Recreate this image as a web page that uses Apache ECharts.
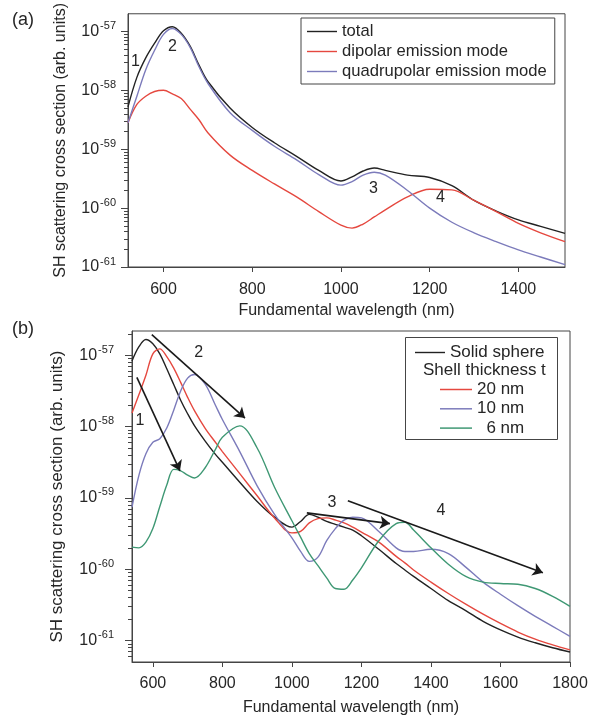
<!DOCTYPE html>
<html>
<head>
<meta charset="utf-8">
<script src="https://cdn.jsdelivr.net/npm/echarts@6/dist/echarts.min.js"></script>
<style>
  html, body { margin: 0; padding: 0; background: #fff; }
  #main { width: 599px; height: 720px; }
</style>
</head>
<body>
<div id="main"></div>
<script>
// values are log10 of the SH scattering cross section (arb. units)

// panel (a) - wavelength in nm
var waveA = [520, 540, 560, 580, 600, 620, 640, 660, 680, 700, 750, 800, 850, 900, 950, 1000,
  1025, 1050, 1075, 1100, 1150, 1200, 1250, 1300, 1350, 1400, 1450, 1505]
var totalA = [-58.28, -57.78, -57.45, -57.2, -56.99, -56.92, -57.03, -57.25, -57.57, -57.85, -58.3, -58.63,
  -58.89, -59.12, -59.36, -59.54, -59.47, -59.37, -59.32, -59.36, -59.44, -59.48, -59.62, -59.87, -60.05,
  -60.2, -60.31, -60.43]
var dipolarA = [-58.55, -58.24, -58.1, -58.02, -58.0, -58.06, -58.14, -58.32, -58.5, -58.72, -59.1, -59.36,
  -59.59, -59.81, -60.06, -60.29, -60.34, -60.27, -60.15, -60.03, -59.81, -59.68, -59.69, -59.87, -60.06,
  -60.26, -60.42, -60.57]
var quadrupolarA = [-58.55, -58.1, -57.65, -57.32, -57.05, -56.95, -57.05, -57.27, -57.6, -57.88, -58.38, -58.68,
  -58.95, -59.18, -59.43, -59.61, -59.55, -59.44, -59.39, -59.44, -59.7, -60.0, -60.24, -60.42, -60.57,
  -60.71, -60.83, -60.96]

// panel (b)
var waveB = [540, 560, 580, 600, 620, 640, 660, 680, 700, 720, 750, 780, 800, 850, 900, 950, 1000,
  1025, 1050, 1075, 1100, 1125, 1150, 1175, 1200, 1250, 1300, 1325, 1350, 1400, 1450, 1500, 1550,
  1600, 1650, 1700, 1750, 1800]
var solidB = [-57.08, -56.88, -56.78, -56.84, -56.98, -57.19, -57.41, -57.63, -57.82, -57.99, -58.2, -58.39,
  -58.5, -58.78, -59.05, -59.27, -59.41, -59.33, -59.23, -59.27, -59.33, -59.37, -59.41, -59.45, -59.53,
  -59.72, -59.92, -60.01, -60.1, -60.27, -60.44, -60.58, -60.73, -60.85, -60.95, -61.03, -61.1, -61.16]
var shell20B = [-57.81, -57.55, -57.28, -56.98, -56.91, -57.02, -57.18, -57.38, -57.59, -57.78, -58.02, -58.22,
  -58.35, -58.66, -58.97, -59.28, -59.49, -59.47, -59.35, -59.29, -59.28, -59.31, -59.35, -59.41, -59.48,
  -59.62, -59.82, -59.91, -60.01, -60.18, -60.34, -60.49, -60.63, -60.76, -60.88, -60.98, -61.06, -61.13]
var shell10B = [-59.13, -58.68, -58.38, -58.22, -58.17, -58.02, -57.77, -57.5, -57.32, -57.27, -57.4, -57.7,
  -57.9, -58.35, -58.83, -59.23, -59.56, -59.75, -59.89, -59.83, -59.6, -59.43, -59.31, -59.27, -59.28,
  -59.47, -59.7, -59.75, -59.75, -59.72, -59.78, -59.97, -60.18, -60.35, -60.51, -60.66, -60.8, -60.94]
var shell6B = [-59.69, -59.7, -59.62, -59.43, -59.12, -58.82, -58.6, -58.62, -58.68, -58.72, -58.58, -58.32,
  -58.15, -57.99, -58.3, -58.85, -59.32, -59.55, -59.78, -59.95, -60.12, -60.27, -60.28, -60.15, -59.98,
  -59.6, -59.36, -59.34, -59.45, -59.7, -59.93, -60.1, -60.18, -60.2, -60.21, -60.27, -60.38, -60.52]

// tick labels
var decades = [-61, -60, -59, -58, -57]
var ticksA = [600, 800, 1000, 1200, 1400]
var ticksB = [600, 800, 1000, 1200, 1400, 1600, 1800]

var FONT = '"Liberation Sans", Arial, sans-serif'
var AXIS_COLOR = '#454545'
var TEXT_COLOR = '#262626'
var BLACK = '#222222'
var RED = '#e5483f'
var PURPLE = '#7c7bbb'
var GREEN = '#3f9874'
// thin bar used as the legend sample line
var LINE_ICON = 'path://M0,0 L30,0 L30,1.4 L0,1.4 Z'

var chart = echarts.init(document.getElementById('main'))

var pairs = function (xs, ys) {
  return xs.map(function (x, i) { return [x, ys[i]] })
}

// log minor ticks (2..9 in every decade)
var minorTicks = function (from, to) {
  var out = []
  for (var d = from; d < to; d++) {
    for (var k = 2; k <= 9; k++) out.push(d + Math.log10(k))
  }
  return out
}

var expLabel = function (v) {
  return '{b|10}{s|' + v + '}'
}

var xAxisFor = function (gridIndex, min, max, ticks, labelMargin, nameGap) {
  return {
    type: 'value', gridIndex: gridIndex, min: min, max: max,
    name: 'Fundamental wavelength (nm)', nameLocation: 'middle', nameGap: nameGap,
    nameTextStyle: { fontFamily: FONT, fontSize: 16, color: TEXT_COLOR },
    axisLine: { show: true, lineStyle: { color: AXIS_COLOR } },
    axisTick: { show: true, length: 5, customValues: ticks, lineStyle: { color: AXIS_COLOR } },
    axisLabel: {
      customValues: ticks, margin: labelMargin, fontFamily: FONT, fontSize: 16, color: TEXT_COLOR,
      formatter: function (v) { return String(v) }
    },
    splitLine: { show: false }
  }
}

var yMajor = function (gridIndex, min, max, nameSize, nameGap, labelMargin) {
  return {
    type: 'value', gridIndex: gridIndex, min: min, max: max, position: 'left',
    name: 'SH scattering cross section (arb. units)', nameLocation: 'middle', nameGap: nameGap,
    nameTextStyle: { fontFamily: FONT, fontSize: nameSize, color: TEXT_COLOR },
    axisLine: { show: true, lineStyle: { color: AXIS_COLOR } },
    axisTick: { show: true, length: 7, customValues: decades, lineStyle: { color: AXIS_COLOR } },
    axisLabel: {
      customValues: decades, margin: labelMargin, formatter: expLabel,
      rich: {
        b: { fontFamily: FONT, fontSize: 16, color: TEXT_COLOR },
        s: { fontFamily: FONT, fontSize: 11, color: TEXT_COLOR, padding: [0, 0, 11, 1] }
      }
    },
    splitLine: { show: false }
  }
}

var yMinor = function (gridIndex, min, max) {
  return {
    type: 'value', gridIndex: gridIndex, min: min, max: max, position: 'left', offset: 0,
    axisLine: { show: false },
    axisTick: { show: true, length: 4, customValues: minorTicks(-62, -56), lineStyle: { color: AXIS_COLOR } },
    axisLabel: { show: false },
    splitLine: { show: false }
  }
}

var numberLabels = function (items) {
  return {
    symbol: 'circle', symbolSize: 1,
    itemStyle: { color: 'rgba(0,0,0,0)' },
    label: {
      show: true, position: 'inside', fontFamily: FONT, fontSize: 16, color: TEXT_COLOR,
      formatter: function (p) { return p.name }
    },
    silent: true,
    data: items
  }
}

var lineSeries = function (name, xi, yi, xs, ys, color) {
  return {
    name: name, type: 'line', xAxisIndex: xi, yAxisIndex: yi,
    data: pairs(xs, ys), smooth: 0.35, symbol: 'none',
    color: color, lineStyle: { color: color, width: 1.4 }
  }
}

// empty series so the minor-tick axes are drawn
var tickHolder = function (xi, yi) {
  return { type: 'line', xAxisIndex: xi, yAxisIndex: yi, data: [], silent: true, symbol: 'none' }
}

var solid = lineSeries('Solid sphere', 1, 2, waveB, solidB, BLACK)
solid.markLine = {
  silent: true, symbol: ['none', 'arrow'], symbolSize: 10,
  label: { show: false },
  lineStyle: { color: '#1a1a1a', width: 1.6, type: 'solid' },
  data: [
    [{ coord: [554, -57.31] }, { coord: [678, -58.62] }],
    [{ coord: [597, -56.71] }, { coord: [865, -57.88] }],
    [{ coord: [1043, -59.21] }, { coord: [1282, -59.36] }],
    [{ coord: [1161, -59.04] }, { coord: [1722, -60.05] }]
  ]
}
solid.markPoint = numberLabels([
  { name: '1', coord: [563, -57.91] },
  { name: '2', coord: [732, -56.96] },
  { name: '3', coord: [1115, -59.06] },
  { name: '4', coord: [1429, -59.18] }
])

var total = lineSeries('total', 0, 0, waveA, totalA, BLACK)
total.markPoint = numberLabels([
  { name: '1', coord: [537, -57.51] },
  { name: '2', coord: [620, -57.25] },
  { name: '3', coord: [1073, -59.67] },
  { name: '4', coord: [1224, -59.82] }
])

var option = {
  animation: false,
  backgroundColor: '#fff',
  textStyle: { fontFamily: FONT },
  title: [
    { text: '(a)', left: 12, top: 11, padding: 0, textStyle: { fontFamily: FONT, fontSize: 18, fontWeight: 'normal', color: TEXT_COLOR } },
    { text: '(b)', left: 12, top: 320, padding: 0, textStyle: { fontFamily: FONT, fontSize: 18, fontWeight: 'normal', color: TEXT_COLOR } }
  ],
  grid: [
    { left: 128, top: 12, width: 437, height: 255, show: true, borderColor: AXIS_COLOR, borderWidth: 1, backgroundColor: 'transparent' },
    { left: 132, top: 331, width: 438, height: 331, show: true, borderColor: AXIS_COLOR, borderWidth: 1, backgroundColor: 'transparent' }
  ],
  xAxis: [
    xAxisFor(0, 520, 1505, ticksA, 15, 36),
    xAxisFor(1, 540, 1800, ticksB, 14, 38)
  ],
  yAxis: [
    yMajor(0, -61, -56.7, 16, 59, 12),
    yMinor(0, -61, -56.7),
    yMajor(1, -61.3, -56.66, 17, 66, 18),
    yMinor(1, -61.3, -56.66)
  ],
  legend: [
    {
      data: ['total', 'dipolar emission mode', 'quadrupolar emission mode'],
      orient: 'vertical', left: 301, top: 18, icon: LINE_ICON,
      padding: [5, 8, 4, 6], itemWidth: 30, itemHeight: 16, itemGap: 3,
      backgroundColor: '#fff', borderColor: AXIS_COLOR, borderWidth: 1,
      selectedMode: false,
      textStyle: { fontFamily: FONT, fontSize: 16.6, color: TEXT_COLOR }
    },
    {
      data: ['Solid sphere'],
      orient: 'vertical', left: 415, top: 344, padding: 0, icon: LINE_ICON,
      itemWidth: 30, itemHeight: 17, selectedMode: false, z: 6,
      textStyle: { fontFamily: FONT, fontSize: 17, color: TEXT_COLOR }
    },
    {
      data: ['20 nm', '10 nm', '6 nm'],
      orient: 'vertical', left: 440, top: 381, padding: 0, icon: LINE_ICON,
      itemWidth: 32, itemHeight: 17, itemGap: 2.3, selectedMode: false, z: 6,
      formatter: function (name) { return name === '6 nm' ? '  6 nm' : name },
      textStyle: { fontFamily: FONT, fontSize: 17, color: TEXT_COLOR }
    }
  ],
  graphic: [
    {
      type: 'rect', z: 5, silent: true,
      shape: { x: 405.5, y: 337.5, width: 152, height: 102 },
      style: { fill: '#fff', stroke: AXIS_COLOR, lineWidth: 1 }
    },
    {
      type: 'text', z: 7, silent: true, x: 423, y: 362,
      style: { text: 'Shell thickness t', font: '17px "Liberation Sans", Arial, sans-serif', fill: TEXT_COLOR }
    }
  ],
  series: [
    total,
    lineSeries('dipolar emission mode', 0, 0, waveA, dipolarA, RED),
    lineSeries('quadrupolar emission mode', 0, 0, waveA, quadrupolarA, PURPLE),
    solid,
    lineSeries('20 nm', 1, 2, waveB, shell20B, RED),
    lineSeries('10 nm', 1, 2, waveB, shell10B, PURPLE),
    lineSeries('6 nm', 1, 2, waveB, shell6B, GREEN),
    tickHolder(0, 1),
    tickHolder(1, 3)
  ]
}

chart.setOption(option)
</script>
</body>
</html>
